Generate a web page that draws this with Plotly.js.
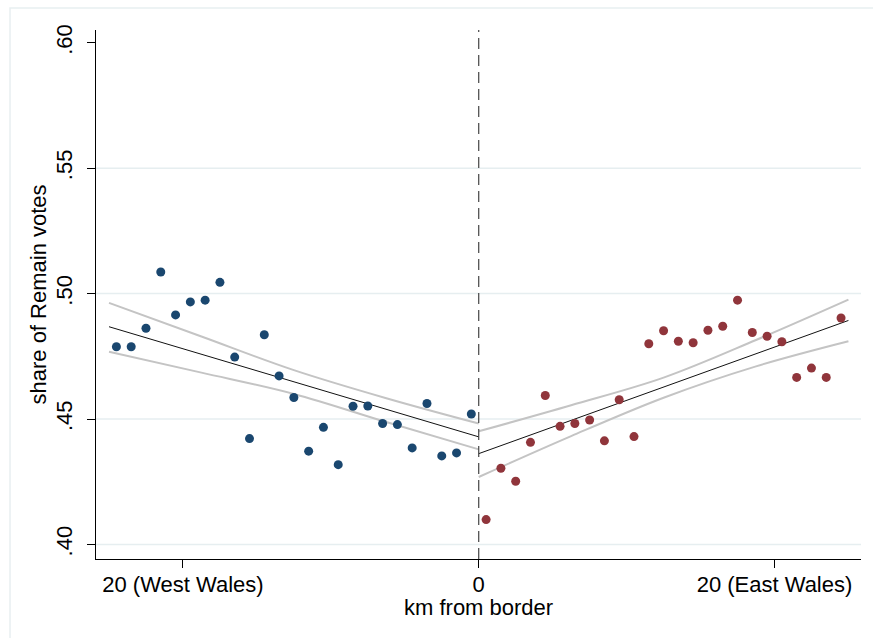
<!DOCTYPE html>
<html>
<head>
<meta charset="utf-8">
<script src="https://cdn.plot.ly/plotly-3.0.1.min.js"></script>
<style>html,body{margin:0;padding:0;background:#fff;}#chart{width:873px;height:638px;}</style>
</head>
<body>
<div id="chart"></div>
<script>
// Binned data: km from border (West Wales negative) and share of Remain votes
const westKm = [-24.5,-23.5,-22.5,-21.5,-20.5,-19.5,-18.5,-17.5,-16.5,-15.5,-14.5,-13.5,-12.5,-11.5,-10.5,-9.5,-8.5,-7.5,-6.5,-5.5,-4.5,-3.5,-2.5,-1.5,-0.5];
const westShare = [0.4788,0.4788,0.4862,0.5086,0.4915,0.4967,0.4974,0.5045,0.4747,0.4422,0.4836,0.4672,0.4586,0.4372,0.4467,0.4318,0.4551,0.4552,0.4482,0.4478,0.4385,0.4562,0.4353,0.4365,0.4520];
const eastKm = [0.5,1.5,2.5,3.5,4.5,5.5,6.5,7.5,8.5,9.5,10.5,11.5,12.5,13.5,14.5,15.5,16.5,17.5,18.5,19.5,20.5,21.5,22.5,23.5,24.5];
const eastShare = [0.4099,0.4304,0.4252,0.4407,0.4594,0.4471,0.4482,0.4496,0.4413,0.4577,0.4430,0.4800,0.4852,0.4810,0.4804,0.4854,0.4870,0.4974,0.4845,0.4830,0.4808,0.4666,0.4703,0.4666,0.4903];

// Linear fits and confidence bands
const westFitKm = [-25,-18.75,-12.5,-6.25,0];
const westFit = [0.4868,0.4758,0.4648,0.4539,0.4429];
const westUpper = [0.4963,0.4829,0.4695,0.4583,0.4482];
const westLower = [0.4768,0.4685,0.4600,0.4488,0.4379];
const eastFitKm = [0,6.25,12.5,18.75,25];
const eastFit = [0.4362,0.4495,0.4628,0.4760,0.4893];
const eastUpper = [0.4451,0.4555,0.4665,0.4815,0.4976];
const eastLower = [0.4269,0.4432,0.4585,0.4710,0.4810];

const xTickVals = [-20,0,20];
const xTickText = ['20 (West Wales)','0','20 (East Wales)'];
const yTickVals = [0.40,0.45,0.50,0.55,0.60];
const yTickText = ['.40','.45','.50','.55','.60'];
const gridVals = [0.40,0.45,0.50,0.55];

const blue = '#1a476f', red = '#90353b', ciCol = '#c4c4c4';
const ciLine = {color:ciCol, width:2, shape:'spline', smoothing:1};
const traces = [
  {x: westFitKm, y: westUpper, mode:'lines', line:ciLine, hoverinfo:'skip'},
  {x: westFitKm, y: westLower, mode:'lines', line:ciLine, hoverinfo:'skip'},
  {x: eastFitKm, y: eastUpper, mode:'lines', line:ciLine, hoverinfo:'skip'},
  {x: eastFitKm, y: eastLower, mode:'lines', line:ciLine, hoverinfo:'skip'},
  {x: westFitKm, y: westFit, mode:'lines', line:{color:'#111',width:1}},
  {x: eastFitKm, y: eastFit, mode:'lines', line:{color:'#111',width:1}},
  {x: westKm, y: westShare, mode:'markers', marker:{color:blue,size:9}},
  {x: eastKm, y: eastShare, mode:'markers', marker:{color:red,size:9}}
];

const shapes = gridVals.map(v => ({type:'line', xref:'paper', yref:'y', x0:0, x1:1, y0:v, y1:v, line:{color:'#e6eef0', width:1.5}, layer:'below'}));
shapes.push({type:'line', xref:'x', yref:'paper', x0:0, x1:0, y0:0, y1:1, line:{color:'#444', width:1.2, dash:'11px,6px'}, layer:'above'});
shapes.push({type:'rect', xref:'paper', yref:'paper', x0:-0.1124, x1:1.03, y0:-0.2, y1:1.0416, line:{color:'#e8eff1', width:1.5}, fillcolor:'rgba(0,0,0,0)', layer:'below'});

const font = {family:'"Liberation Sans", Arial, sans-serif', size:22, color:'#000'};
const layout = {
  width:873, height:638,
  margin:{l:96, r:12, t:30, b:79},
  paper_bgcolor:'#fff', plot_bgcolor:'#fff',
  showlegend:false,
  font: font,
  xaxis:{range:[-25.88,25.85], tickvals:xTickVals, ticktext:xTickText, ticks:'outside', ticklen:8, tickcolor:'#000', tickwidth:1,
         ticklabelstandoff:-2, showgrid:false, zeroline:false, showline:true, linecolor:'#000', linewidth:1, tickfont:font},
  yaxis:{range:[0.3942,0.6051], tickvals:yTickVals, ticktext:yTickText, ticks:'outside', ticklen:8, tickcolor:'#000', tickwidth:1,
         tickangle:-90, ticklabelstandoff:6, showgrid:false, zeroline:false, showline:true, linecolor:'#000', linewidth:1, tickfont:font},
  shapes: shapes,
  annotations:[
    {text:'km from border', xref:'paper', yref:'paper', x:0.5, y:-0.092, xanchor:'center', yanchor:'middle', showarrow:false, font:font},
    {text:'share of Remain votes', xref:'paper', yref:'paper', x:-0.0758, y:0.5, xanchor:'center', yanchor:'middle', textangle:-90, showarrow:false, font:font}
  ]
};
Plotly.newPlot('chart', traces, layout, {displayModeBar:false, staticPlot:true});
</script>
</body>
</html>
